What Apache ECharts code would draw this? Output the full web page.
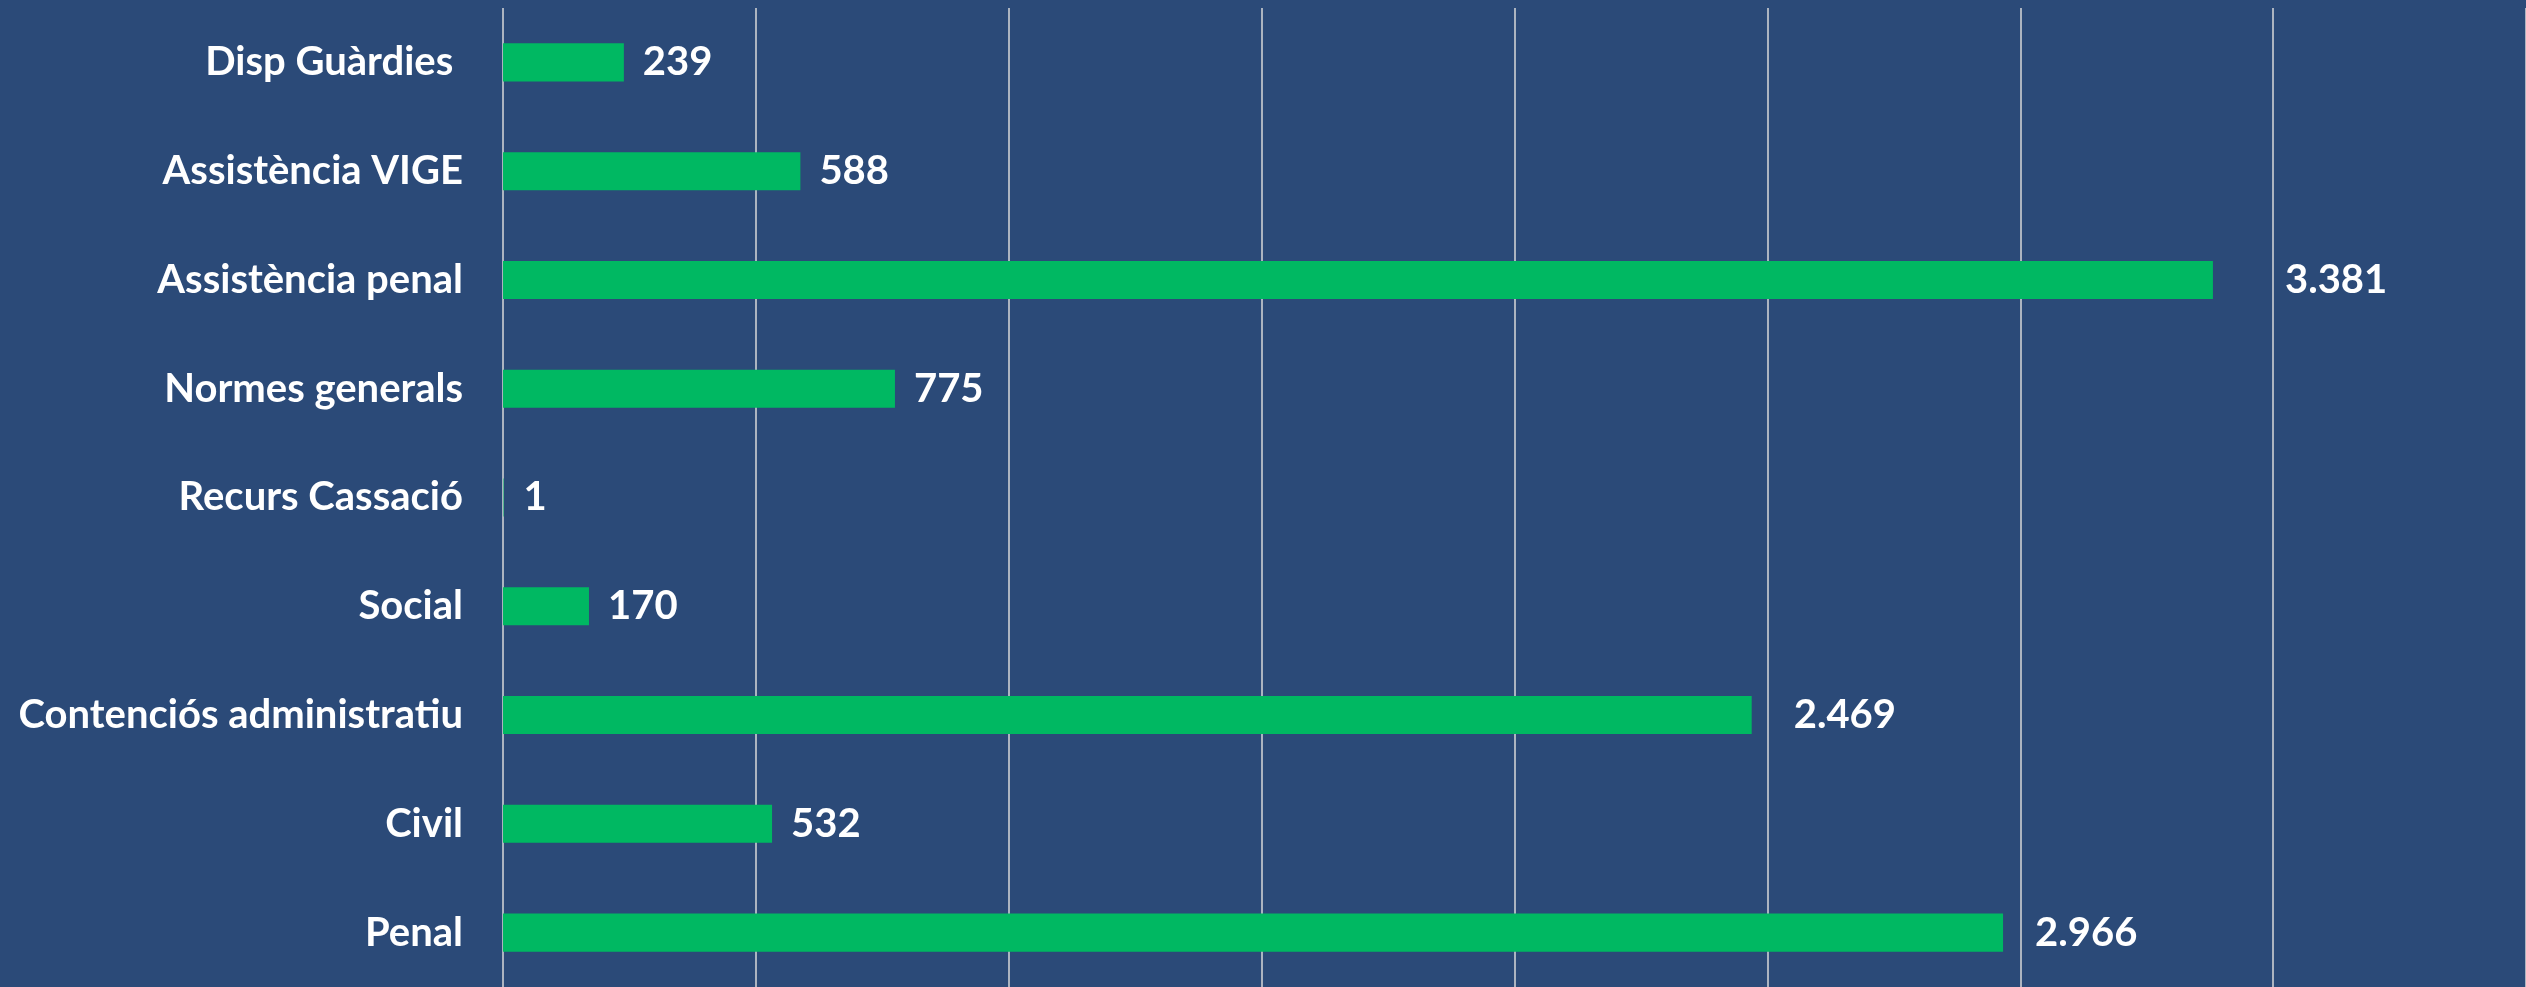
<!DOCTYPE html>
<html><head><meta charset="UTF-8">
<title>ECharts</title>
<script src="https://cdn.jsdelivr.net/npm/echarts@6/dist/echarts.min.js"></script>
<style>
  html, body { margin: 0; padding: 0; background: #2B4A78; }
  #g1 { width: 2526px; height: 987px; }
</style>
</head>
<body>
<div id="g1"></div>
<script type="text/javascript">
// categories from top to bottom
var categories = ['Disp Guàrdies ', 'Assistència VIGE', 'Assistència penal', 'Normes generals',
                  'Recurs Cassació', 'Social', 'Contenciós administratiu', 'Civil', 'Penal'];
var values = [239, 588, 3381, 775, 1, 170, 2469, 532, 2966];
var axisMax = 4000;
var axisStep = 500;
// some labels were pushed further right in the original
var labelGap = [19, 19, 72, 19, 20, 19, 42, 19, 32];

// thousands separator with a dot, as in the original
function fmt(v) {
    return String(v).replace(/\B(?=(\d{3})+(?!\d))/g, '.');
}

var seriesData = [];
for (var i = 0; i < values.length; i++) {
    seriesData.push({ value: values[i], label: { distance: labelGap[i] } });
}

var myChart = echarts.init(document.getElementById('g1'));
var option = {
    backgroundColor: '#2B4A78',
    animation: false,
    grid: { left: 503, right: 0, top: 8, height: 986, containLabel: false },
    xAxis: {
        type: 'value',
        min: 0,
        max: axisMax,
        interval: axisStep,
        axisLabel: { show: false },
        axisLine: { show: false },
        axisTick: { show: false },
        splitLine: { show: true, lineStyle: { color: '#D9D9D9', width: 1.5 } }
    },
    yAxis: {
        type: 'category',
        inverse: true,
        data: categories,
        axisLine: { show: false },
        axisTick: { show: false },
        axisLabel: {
            color: '#FFFFFF',
            fontFamily: 'Lato',
            fontWeight: 'bold',
            fontSize: 40,
            margin: 40
        }
    },
    series: [{
        type: 'bar',
        data: seriesData,
        barWidth: '35%',
        itemStyle: { color: '#00B862' },
        label: {
            show: true,
            position: 'right',
            color: '#FFFFFF',
            fontFamily: 'Lato',
            fontWeight: 'bold',
            fontSize: 40,
            formatter: function (p) { return fmt(p.value); }
        }
    }]
};
myChart.setOption(option);
</script>
</body></html>
